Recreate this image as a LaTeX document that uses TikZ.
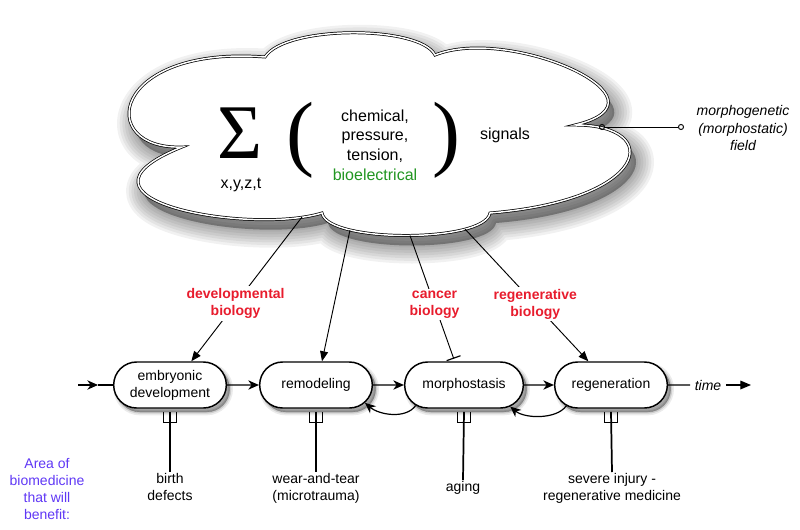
\documentclass[tikz,border=0pt]{standalone}
\usepackage{fontspec}
\setmainfont{Liberation Sans}
\newfontfamily\symserif{Liberation Serif}
\usetikzlibrary{arrows.meta,shapes.misc}

\definecolor{bioRed}{RGB}{232,28,45}
\definecolor{bioGreen}{RGB}{34,150,34}
\definecolor{bioBlue}{RGB}{95,55,245}

\newcommand{\cloudpath}{(182,147)
  .. controls (95,150) and (110,45) .. (265,57)
  .. controls (285,25) and (420,25) .. (435,55)
  .. controls (510,25) and (680,100) .. (575,125)
  .. controls (665,125) and (650,200) .. (490,213)
  .. controls (485,243) and (327,243) .. (322,213)
  .. controls (250,235) and (50,200) .. (182,147) -- cycle}

\begin{document}
\begin{tikzpicture}[x=0.75pt,y=-0.75pt,
  every node/.style={font=\fontsize{10.5}{12.8}\selectfont},
  cloud/.style={fill=white, draw, line width=0.55pt, double=white, double distance=1.1pt},
  haze/.style={draw=black, fill=black, opacity=0.055, line join=round, shift={(6,10)}},
  stage/.style={rounded rectangle, draw, line width=1.1pt, fill=white, minimum width=88.5pt,
    minimum height=34.5pt, align=center, inner sep=2pt,
    preaction={draw=black, fill=black, line width=5pt, opacity=0.08, transform canvas={shift={(2.5pt,-3pt)}}},
    preaction={draw=black, fill=black, line width=2.5pt, opacity=0.12, transform canvas={shift={(2.5pt,-3pt)}}},
    preaction={draw=black, fill=black, line width=0.5pt, opacity=0.15, transform canvas={shift={(2.5pt,-3pt)}}}},
  bigtext/.style={font=\fontsize{12}{14.8}\selectfont},
  symb/.style={font=\symserif\fontsize{63}{63}\selectfont, inner sep=0pt},
  flow/.style={line width=0.9pt, -{Stealth[length=8pt,width=7pt,inset=2.5pt]}},
  signal/.style={line width=0.7pt, -{Triangle[length=7.5pt,width=6pt]}},
  bio/.style={font=\bfseries\fontsize{10.5}{12.8}\selectfont, text=bioRed, fill=white, align=center, inner sep=1.5pt},
  fork/.style={line width=1.3pt},
  benefit/.style={align=center, inner sep=1pt, anchor=north},
  slanted/.style={font=\itshape\fontsize{10.5}{12.8}\selectfont}
]
\useasboundingbox (0,0) rectangle (800,529);

% the signal cloud, with its soft shadow
\foreach \w in {27,23,19,15,11,7,3}
  \path[haze, line width=\w pt] \cloudpath;
\path[cloud] \cloudpath;

\node[symb, font=\symserif\fontsize{58}{58}\selectfont] (sum) at (240,133) {Σ};
\node[bigtext, inner sep=1pt] (vars) at (241,185) {x,y,z,t};
\node[symb] (lpar) at (300,140) {(};
\node[symb] (rpar) at (446,140) {)};
\node[bigtext, align=center] (kinds) at (375,145) {chemical,\\pressure,\\tension,\\\textcolor{bioGreen}{bioelectrical}};
\node[bigtext] (signals) at (505,135) {signals};

\coordinate (c1) at (302,217);
\coordinate (c2) at (350,230);
\coordinate (c3) at (410,235.5);
\coordinate (c4) at (465,229);
\coordinate (cf) at (599,127);
\coordinate (fEnd) at (684,127);

\draw[line width=0.7pt, {Circle[open,length=4.5pt]}-{Circle[open,length=4.5pt]}] (cf) -- (fEnd);
\node[slanted, align=center] (field) at (743,128) {morphogenetic\\(morphostatic)\\field};

% stages in time
\node[stage] (emb) at (170,385) {embryonic\\development};
\node[stage] (remod) at (316,385) {remodeling};
\node[stage, minimum width=93pt] (morph) at (464,385) {morphostasis};
\node[stage] (regen) at (611,385) {regeneration};

\coordinate (inA) at (78,385);
\coordinate (inB) at (98,385);
\draw[flow] (inA) -- (inB);
\draw[line width=0.9pt] (inB) -- (emb);
\draw[flow] (emb) -- (remod);
\draw[flow] (remod) -- (morph);
\draw[flow] (morph) -- (regen);
\draw[flow] (morph.203) .. controls +(-10,14) and +(14,12) .. (remod.340);
\draw[flow] (regen.205) .. controls +(-10,14) and +(14,12) .. (morph.335);

\node[slanted] (time) at (708,385) {time};
\coordinate (tEnd) at (751,385);
\draw[line width=0.9pt] (regen) -- (time);
\draw[line width=0.9pt, -{Triangle[length=8pt,width=6.5pt]}] (time) -- (tEnd);

% signals acting on the stages
\draw[signal] (c1) -- node[bio, pos=.6] {developmental\\biology} ([xshift=16pt]emb.north);
\draw[signal] (c2) -- ([xshift=4.5pt]remod.north);
\draw[line width=0.7pt, -{Bar[width=11pt,line width=0.9pt]}, shorten >=2pt] (c3) -- node[bio, pos=.55] {cancer\\biology} ([xshift=-7pt]morph.north);
\draw[signal] (c4) -- node[bio, pos=.57] {regenerative\\biology} ([xshift=-17pt]regen.north);

% areas of biomedicine
\node[text=bioBlue, align=center] (area) at (47,489) {Area of\\biomedicine\\that will\\benefit:};
\node[benefit] (birth) at (170,472) {birth\\defects};
\node[benefit] (wear) at (316,472) {wear-and-tear\\(microtrauma)};
\node[benefit] (aging) at (463,480) {aging};
\node[benefit] (injury) at (612,472) {severe injury -\\regenerative medicine};

\foreach \st/\lb in {emb/birth, remod/wear, morph/aging, regen/injury}{
  \draw[fork] ([yshift=-2.3pt]\st.south) -- (\lb.north);
  \draw[fork] ([shift={(-4.8pt,-2.3pt)}]\st.south) -- ++(0pt,-8pt) -- ++(9.6pt,0pt) -- ++(0pt,8pt);
}
\end{tikzpicture}
\end{document}
